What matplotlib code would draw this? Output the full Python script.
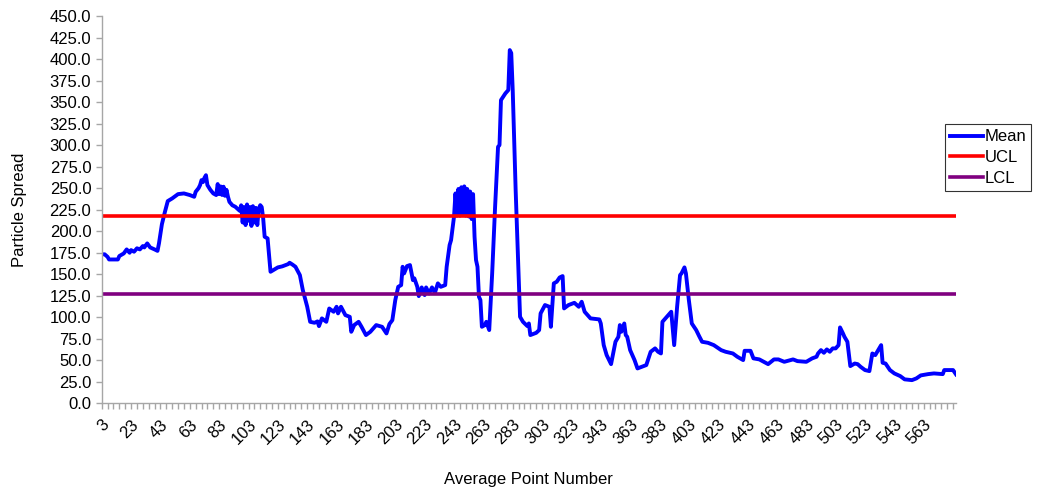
import matplotlib
matplotlib.use("Agg")
import matplotlib.pyplot as plt

plt.rcParams['font.family'] = ['Liberation Sans', 'DejaVu Sans']

# average point numbers (key vertices) and mean values
point_no = [3, 5, 7, 8, 14, 15, 18, 20, 22, 23, 25, 27, 29, 31, 32, 34, 36, 39, 41, 42,
            44, 46, 48, 51, 55, 59, 63, 66, 67, 69, 70, 71, 72, 73, 74, 75, 77, 79, 81, 82,
            83, 84, 85, 86, 87, 88, 89, 90, 92, 94, 97,
            98, 99, 100, 101, 102, 103, 104, 105, 106, 107, 108, 109, 110,
            111, 112, 113, 114, 116, 118, 123, 126, 130, 131, 133, 135, 138, 140, 143, 145,
            148, 150, 151, 153, 156, 158, 161, 163, 164, 166, 169, 172, 173, 175, 178, 180,
            183, 186, 190, 194, 197, 199, 201, 203, 205, 207, 208, 209, 211, 213, 215, 216,
            218, 219, 221, 223, 224, 226, 228, 230, 232, 234, 237, 238, 240, 241, 243,
            244, 245, 246, 247, 248, 249, 250, 251, 252, 253, 254, 255, 256,
            257, 258, 259, 260, 261, 262, 264, 265, 267, 269, 271, 273, 274, 275, 278, 280,
            281, 282, 283, 285, 288, 290, 293, 294, 295, 299, 301, 302, 305, 308, 309, 311,
            313, 315, 317, 318, 321, 325, 328, 330, 332, 334, 336, 342, 343, 345, 347, 350,
            351, 353, 355, 356, 357, 359, 360, 361, 363, 366, 368, 371, 374, 377, 380, 382,
            384, 385, 388, 391, 393, 395, 397, 398, 400, 401, 403, 405, 408, 410, 412, 416,
            420, 425, 428, 433, 436, 440, 441, 445, 447, 451, 457, 461, 464, 468, 474, 477,
            483, 487, 490, 491, 493, 495, 497, 499, 501, 503, 505, 506, 508, 509, 511, 513,
            516, 518, 520, 523, 526, 528, 530, 532, 534, 535, 537, 540, 543, 547, 550, 555,
            558, 561, 566, 570, 576, 577, 583, 585]
mean_vals = [173, 173, 170, 167, 167, 171, 174, 178.7, 174.8, 177.9, 176, 180, 178.7, 182.6, 181, 185.7, 181, 178.7, 177, 185.7,
             208, 222, 234.9, 238, 243, 243.8, 241.9, 239.9, 245.7, 250, 253.5, 259.3, 257, 262, 265, 253.5, 248, 243.8, 241.9, 254.7,
             243, 252, 242, 251.6, 241, 248, 240, 234, 230, 228.3, 223.6,
             230, 210, 228, 207, 231, 212, 228, 206, 229, 210, 227, 207, 226,
             230.2, 228, 214.7, 193.4, 191.5, 152.7, 157.8, 159, 161.6, 163.2, 161, 158.5, 148.8, 131.4, 112, 94.5,
             93.4, 95, 89.5, 98.5, 94.5, 110, 106.2, 112, 104.3, 112, 102.3, 100.3, 82.9, 90.7, 94.5, 88.7,
             79.1, 82.9, 90.7, 88.7, 81, 91.9, 96.5, 119.8, 135.2, 137.2, 158.5, 150.8, 159.3, 160.5, 143, 145,
             135.2, 124.4, 134.5, 125.6, 134.5, 127.5, 134.5, 128.3, 139.2, 135.2, 137.2, 158.5, 183.7, 189.5, 216.6,
             243.8, 218, 249, 218, 251, 219, 252, 218, 249, 217, 246, 214, 243,
             193.4, 166.3, 158.5, 123.6, 119.8, 88.7, 90.7, 94.5, 84.9, 150.8, 228.3, 298, 300, 352.3, 360.1, 364,
             410.5, 407, 364, 247.7, 100.3, 94.5, 89.5, 92.6, 79.1, 81.7, 84.9, 104.3, 114, 112, 88.7, 139.2,
             141.1, 146.1, 147.7, 110.1, 114, 116.6, 112, 117.8, 106.2, 102.3, 98.5, 97.3, 92.6, 67.4, 55.8, 45.3,
             53.9, 71.3, 77.1, 90.7, 82.9, 92.6, 79.1, 77.1, 61.6, 50, 40.3, 42.2, 44.2, 59.7, 63.6, 59.7,
             57.7, 94.5, 100.3, 106.2, 67.4, 112, 148.8, 150.8, 157.8, 150.8, 119.8, 92.6, 84.9, 77.9, 71.3, 70.1,
             67.4, 61.6, 59.7, 57.7, 53.9, 50, 60.8, 60.8, 52, 50.8, 45.3, 50.8, 50.8, 48, 50.8, 48.8,
             48, 52, 53.9, 57.7, 61.6, 58.5, 62.4, 59.7, 63.6, 63.6, 67.4, 88, 81, 77.1, 71.3, 43,
             46, 45.3, 42.2, 38.4, 37.2, 57.7, 55.8, 61.6, 67.4, 46.9, 46, 38.4, 34.5, 31.4, 27.6, 26.7,
             28.7, 32.2, 33.7, 34.5, 33.7, 38.4, 38.4, 33.4]

ucl = 217.4
lcl = 126.7
first_pt, last_pt = 3, 585
last_label = 563

fig = plt.figure(figsize=(10.38, 4.88), dpi=100)
ax = fig.add_axes([0.098, 0.174, 0.823, 0.793])

ax.plot(point_no, mean_vals, color='#0000FF', lw=2.8, label='Mean')
ax.plot([first_pt, last_pt], [ucl, ucl], color='#FF0000', lw=2.6, label='UCL')
ax.plot([first_pt, last_pt], [lcl, lcl], color='#800080', lw=2.6, label='LCL')

ax.set_xlim(first_pt, last_pt)
ax.set_ylim(0, 450)

# y axis
ax.set_yticks(range(0, 451, 25))
ax.set_yticklabels([f"{v:.1f}" for v in range(0, 451, 25)], fontsize=12)

# x axis: small tick every 4 points, labels every 20
ticks = list(range(first_pt, last_pt + 1, 4))
ax.set_xticks(ticks)
ax.set_xticklabels([str(t) if (t - first_pt) % 20 == 0 and t <= last_label else '' for t in ticks],
                   fontsize=12, rotation=45, ha='right', va='top', rotation_mode='anchor')

for side in ['top', 'right']:
    ax.spines[side].set_visible(False)
for side in ['left', 'bottom']:
    ax.spines[side].set_color('#A6A6A6')
    ax.spines[side].set_linewidth(1.0)
ax.tick_params(axis='both', colors='#A6A6A6', labelcolor='black', length=4, width=1.0)
ax.tick_params(axis='x', pad=6)

ax.set_xlabel('Average Point Number', fontsize=12, labelpad=18)
ax.set_ylabel('Particle Spread', fontsize=12, labelpad=16)

leg = ax.legend(loc='upper left', bbox_to_anchor=(0.910, 0.745), bbox_transform=fig.transFigure,
                fontsize=12, frameon=True, fancybox=False, edgecolor='black',
                handlelength=2.0, handletextpad=0.1, borderpad=0.3, labelspacing=0.35,
                borderaxespad=0)
leg.get_frame().set_linewidth(0.8)

fig.savefig('out.png', dpi=100)
